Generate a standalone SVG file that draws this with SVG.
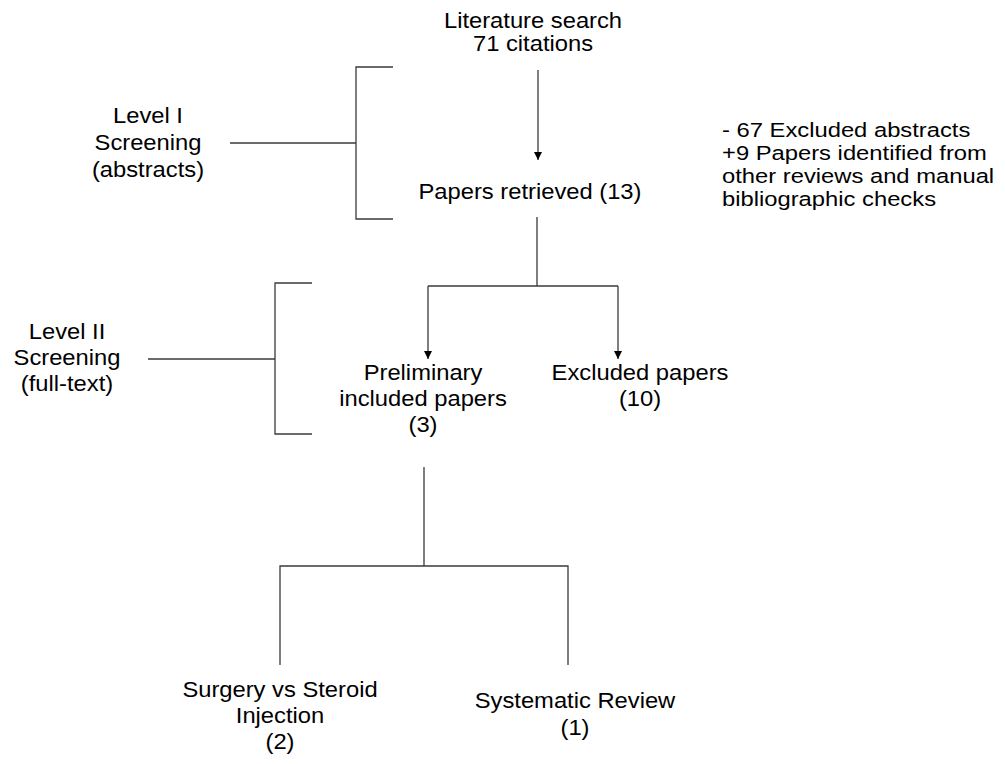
<svg xmlns="http://www.w3.org/2000/svg" width="1005" height="764" viewBox="0 0 1005 764">
<style>
text{font-family:"Liberation Sans",Arial,sans-serif;font-size:22px;fill:#000;text-anchor:middle}
text.l{text-anchor:start;font-size:20.5px}
.ln{stroke:#3a3a3a;stroke-width:1.3;fill:none}
</style>
<defs>
<marker id="ah" viewBox="0 0 8 10" refX="8" refY="5" markerWidth="8" markerHeight="10" markerUnits="userSpaceOnUse" orient="auto">
<path d="M0,1 L8,5 L0,9 z" fill="#000"/>
</marker>
</defs>
<rect width="1005" height="764" fill="#fff"/>
<g id="connectors">
<line class="ln" x1="538" y1="70" x2="538" y2="160" marker-end="url(#ah)"/>
<polyline class="ln" points="393,67 356,67 356,219 393,219"/>
<line class="ln" x1="230" y1="143" x2="356" y2="143"/>
<line class="ln" x1="537" y1="217" x2="537" y2="286"/>
<line class="ln" x1="428" y1="286" x2="618" y2="286"/>
<line class="ln" x1="428" y1="286" x2="428" y2="359" marker-end="url(#ah)"/>
<line class="ln" x1="618" y1="286" x2="618" y2="359" marker-end="url(#ah)"/>
<polyline class="ln" points="312,283 275,283 275,434 312,434"/>
<line class="ln" x1="148" y1="359" x2="275" y2="359"/>
<line class="ln" x1="424" y1="467" x2="424" y2="566"/>
<polyline class="ln" points="280,665 280,566 568,566 568,665"/>
</g>
<g id="lit">
<text transform="translate(533 28) scale(1.08 1)">Literature search</text>
<text transform="translate(533 51) scale(1.08 1)">71 citations</text>
</g>
<g id="level1">
<text transform="translate(148 123) scale(1.08 1)">Level I</text>
<text transform="translate(148 150) scale(1.08 1)">Screening</text>
<text transform="translate(148 177) scale(1.08 1)">(abstracts)</text>
</g>
<g id="retrieved">
<text transform="translate(530 199) scale(1.08 1)">Papers retrieved (13)</text>
</g>
<g id="excluded-abstracts">
<text class="l" transform="translate(722 137) scale(1.16 1)">- 67 Excluded abstracts</text>
<text class="l" transform="translate(722 160) scale(1.16 1)">+9 Papers identified from</text>
<text class="l" transform="translate(722 183) scale(1.16 1)">other reviews and manual</text>
<text class="l" transform="translate(722 206) scale(1.16 1)">bibliographic checks</text>
</g>
<g id="level2">
<text transform="translate(67 339) scale(1.08 1)">Level II</text>
<text transform="translate(67 365) scale(1.08 1)">Screening</text>
<text transform="translate(67 391) scale(1.08 1)">(full-text)</text>
</g>
<g id="preliminary">
<text transform="translate(423 380) scale(1.08 1)">Preliminary</text>
<text transform="translate(423 406) scale(1.08 1)">included papers</text>
<text transform="translate(423 432) scale(1.08 1)">(3)</text>
</g>
<g id="excluded-papers">
<text transform="translate(640 380) scale(1.08 1)">Excluded papers</text>
<text transform="translate(640 406) scale(1.08 1)">(10)</text>
</g>
<g id="surgery">
<text transform="translate(280 697) scale(1.08 1)">Surgery vs Steroid</text>
<text transform="translate(280 723) scale(1.08 1)">Injection</text>
<text transform="translate(280 749) scale(1.08 1)">(2)</text>
</g>
<g id="review">
<text transform="translate(575 708) scale(1.08 1)">Systematic Review</text>
<text transform="translate(575 735) scale(1.08 1)">(1)</text>
</g>
</svg>
